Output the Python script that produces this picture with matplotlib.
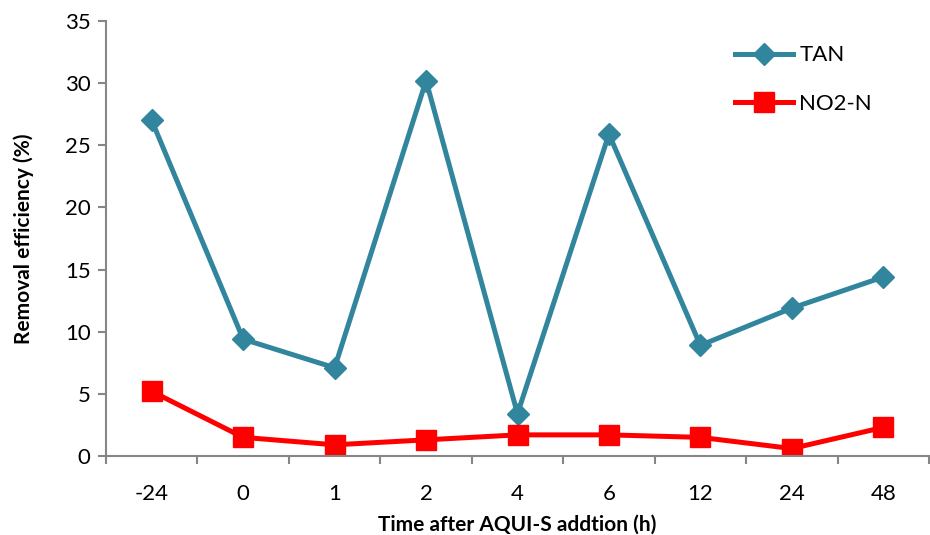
import matplotlib.pyplot as plt

plt.rcParams['font.family'] = ['Lato', 'DejaVu Sans']

TIME_LABELS = ['-24', '0', '1', '2', '4', '6', '12', '24', '48']
TAN = [27.0, 9.4, 7.1, 30.2, 3.4, 25.9, 8.9, 11.9, 14.4]
NO2_N = [5.2, 1.5, 0.9, 1.3, 1.7, 1.7, 1.5, 0.6, 2.3]

TAN_COLOR = '#31859C'
NO2_COLOR = '#FF0000'
AXIS_COLOR = '#868686'

fig = plt.figure(figsize=(9.3, 5.35), dpi=100)
ax = fig.add_axes([106 / 930, 79 / 535, 823 / 930, 435 / 535])

x = range(len(TIME_LABELS))
ax.plot(x, TAN, color=TAN_COLOR, linewidth=3.6, marker='D', markersize=11,
        label='TAN')
ax.plot(x, NO2_N, color=NO2_COLOR, linewidth=3.6, marker='s', markersize=15,
        label='NO2-N')

# Axis limits and ticks
ax.set_xlim(-0.5, len(TIME_LABELS) - 0.5)
ax.set_ylim(0, 35)
ax.set_yticks(range(0, 36, 5))
ax.set_xticks(list(x))
ax.set_xticklabels(TIME_LABELS)
ax.set_xticks([i + 0.5 for i in range(-1, len(TIME_LABELS))], minor=True)
ax.tick_params(axis='x', which='major', length=0, pad=20, labelsize=16)
ax.tick_params(axis='x', which='minor', length=6, width=1.5, color=AXIS_COLOR)
ax.tick_params(axis='y', length=6, width=1.5, color=AXIS_COLOR, labelsize=16,
               pad=5)

for side in ['top', 'right']:
    ax.spines[side].set_visible(False)
for side in ['left', 'bottom']:
    ax.spines[side].set_color(AXIS_COLOR)
    ax.spines[side].set_linewidth(1.5)

ax.set_xlabel('Time after AQUI-S addtion (h)', fontsize=15, fontweight='bold',
              labelpad=8)
ax.set_ylabel('Removal efficiency (%)', fontsize=15, fontweight='bold',
              labelpad=22)

ax.legend(loc='upper right', bbox_to_anchor=(0.955, 0.99), frameon=False,
          fontsize=16, handlelength=2.6, labelspacing=1.3, handletextpad=0.3)

plt.savefig('out.png', dpi=100)
